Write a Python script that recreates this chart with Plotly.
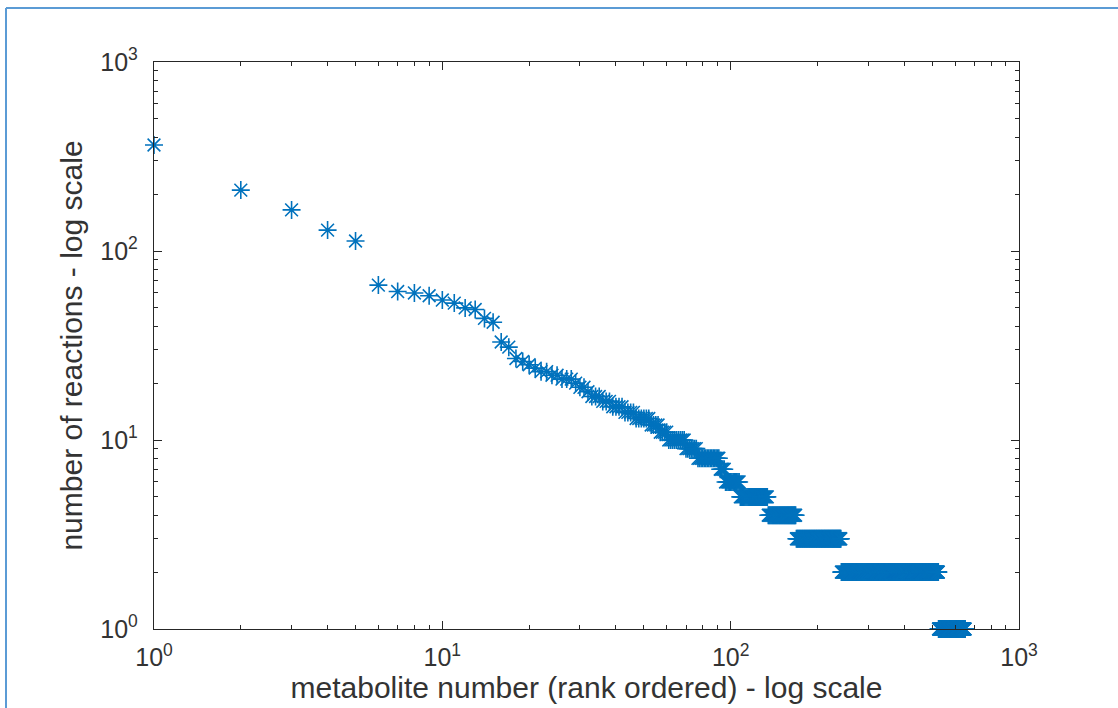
import plotly.graph_objects as go

# Reactions per metabolite, rank ordered (individually read, ranks 1..60)
head_values = [364, 210, 165, 129, 113, 66, 61, 60, 58, 55,
               53, 50, 49, 44, 42, 33, 31, 27, 26, 25,
               24, 23, 23, 22, 22, 21, 21, 21, 20, 19,
               19, 18, 17, 17, 17, 16, 16, 16, 15, 15,
               15, 15, 14, 14, 14, 14, 13, 13, 13, 13,
               13, 13, 12, 12, 12, 12, 11, 11, 11, 11]
# Plateaus in the tail: value and the last rank holding that value
tail_values = [10, 9, 8, 7, 6, 5, 4, 3, 2, 1]
tail_last_rank = [69, 76, 91, 95, 107, 134, 168, 241, 525, 650]

x_tickvals = [1, 10, 100, 1000]
x_ticktext = ["10<sup>0</sup>", "10<sup>1</sup>", "10<sup>2</sup>", "10<sup>3</sup>"]
y_tickvals = [1, 10, 100, 1000]
y_ticktext = ["10<sup>0</sup>", "10<sup>1</sup>", "10<sup>2</sup>", "10<sup>3</sup>"]

ranks_values = list(head_values)
for v, last in zip(tail_values, tail_last_rank):
    while len(ranks_values) < last:
        ranks_values.append(v)
ranks = list(range(1, len(ranks_values) + 1))

W, H = 1118, 708
L, R, T, B = 154, 99, 62, 79
pw, ph = W - L - R, H - T - B

FONT = "Liberation Sans, Arial"
AX = "#262626"

fig = go.Figure()
fig.add_trace(go.Scatter(
    x=ranks, y=ranks_values, mode="markers", cliponaxis=False,
    marker=dict(symbol="asterisk-open", size=15, color="#0072BD",
                line=dict(color="#0072BD", width=1.6)),
    showlegend=False,
))
# empty trace so the minor-tick overlay axes exist as a subplot
fig.add_trace(go.Scatter(x=[], y=[], xaxis="x2", yaxis="y2", showlegend=False))

axis_common = dict(
    type="log", range=[0, 3], showgrid=False, zeroline=False,
    showline=True, linecolor=AX, linewidth=1.3, mirror="allticks",
    ticks="inside", ticklen=8, tickwidth=1.2, tickcolor=AX,
    tickfont=dict(family=FONT, size=25, color="#333333"),
)
minor_common = dict(
    type="log", range=[0, 3], showgrid=False, zeroline=False,
    showline=True, linecolor=AX, linewidth=1.3, mirror="ticks",
    ticks="inside", ticklen=4, tickwidth=1.2, tickcolor=AX,
    tickmode="linear", tick0=0, dtick="D1", showticklabels=False,
)

fig.update_layout(
    xaxis=dict(**axis_common, tickmode="array", tickvals=x_tickvals, ticktext=x_ticktext,
               ticklabelstandoff=6,
               title=dict(text="metabolite number (rank ordered) - log scale",
                          font=dict(family=FONT, size=30, color="#333333"),
                          standoff=6)),
    yaxis=dict(**axis_common, tickmode="array", tickvals=y_tickvals, ticktext=y_ticktext,
               ticklabelstandoff=10,
               title=dict(text="number of reactions - log scale",
                          font=dict(family=FONT, size=30, color="#333333"),
                          standoff=8)),
    xaxis2=dict(**minor_common, overlaying="x", anchor="y2", side="bottom"),
    yaxis2=dict(**minor_common, overlaying="y", anchor="x2", side="left"),
)

# page frame (top and left border lines)
def px_to_paper_x(px):
    return (px - L) / pw

def px_to_paper_y(py):
    return (H - B - py) / ph

frame = dict(color="#5B9BD5", width=2)
fig.add_shape(type="line", xref="paper", yref="paper",
              x0=px_to_paper_x(6), x1=px_to_paper_x(W + 5),
              y0=px_to_paper_y(8), y1=px_to_paper_y(8), line=frame)
fig.add_shape(type="line", xref="paper", yref="paper",
              x0=px_to_paper_x(6), x1=px_to_paper_x(6),
              y0=px_to_paper_y(8), y1=px_to_paper_y(H + 5), line=frame)

fig.update_layout(
    width=W, height=H,
    margin=dict(l=L, r=R, t=T, b=B, autoexpand=False),
    paper_bgcolor="white", plot_bgcolor="white",
    font=dict(family=FONT, color="#333333"),
)

fig.write_html("out.html")
